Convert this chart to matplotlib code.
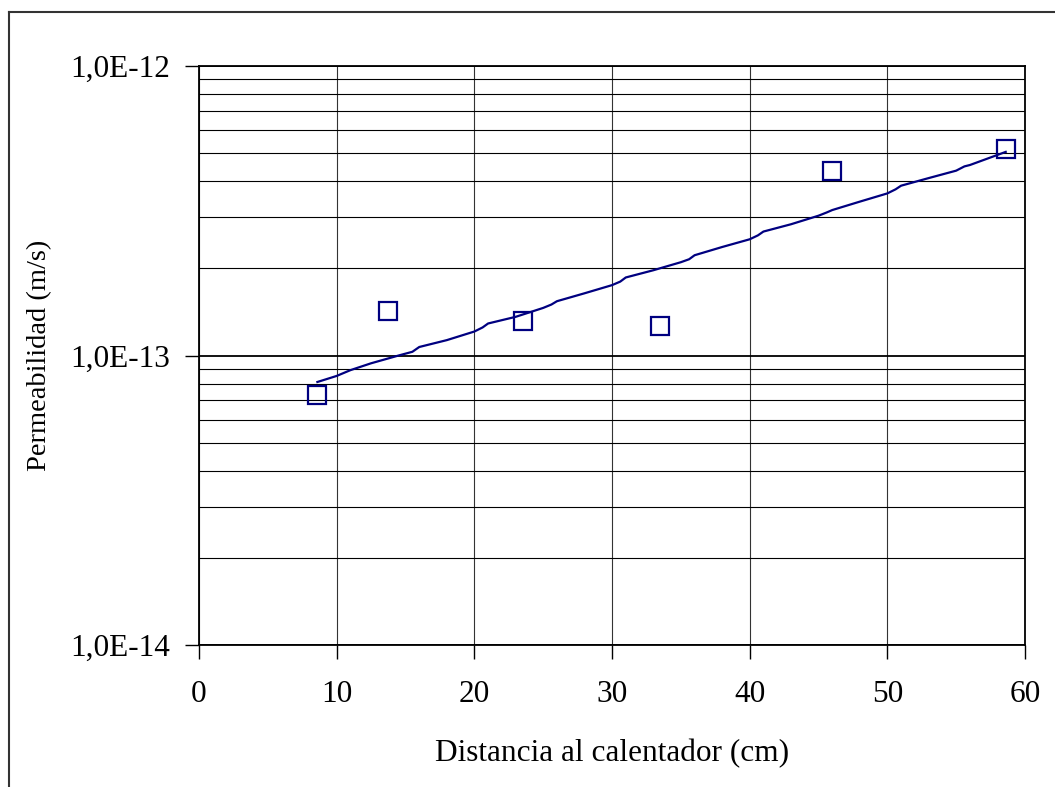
import matplotlib
matplotlib.use("Agg")
import matplotlib.pyplot as plt
from matplotlib.lines import Line2D
from matplotlib.ticker import FixedLocator, LogLocator, NullFormatter

plt.rcParams['font.family'] = ['Liberation Serif', 'DejaVu Serif']

# measured points
dist_pts = [8.6, 13.7, 23.5, 33.5, 46.0, 58.6]
perm_pts = [7.3e-14, 1.43e-13, 1.32e-13, 1.26e-13, 4.34e-13, 5.17e-13]

# model curve
dist_line = [8.6, 10, 11, 12.5, 14.5, 15.5, 16, 18, 20, 20.6, 21, 23, 25, 25.6,
             26, 28, 30, 30.6, 31, 33, 35, 35.6, 36, 38, 40, 40.6, 41, 43, 45,
             45.6, 46, 48, 50, 50.6, 51, 53, 55, 55.6, 56, 58.6]
perm_line = [8.1e-14, 8.5e-14, 8.9e-14, 9.4e-14, 1.0e-13, 1.03e-13, 1.07e-13,
             1.13e-13, 1.21e-13, 1.25e-13, 1.29e-13, 1.36e-13, 1.46e-13, 1.50e-13,
             1.54e-13, 1.64e-13, 1.75e-13, 1.80e-13, 1.86e-13, 1.97e-13, 2.10e-13,
             2.15e-13, 2.22e-13, 2.37e-13, 2.52e-13, 2.60e-13, 2.68e-13, 2.84e-13,
             3.04e-13, 3.12e-13, 3.18e-13, 3.40e-13, 3.63e-13, 3.75e-13, 3.86e-13,
             4.10e-13, 4.35e-13, 4.50e-13, 4.55e-13, 5.05e-13]

y_ticks = [1e-14, 1e-13, 1e-12]
y_labels = ["1,0E-14", "1,0E-13", "1,0E-12"]
x_ticks = [0, 10, 20, 30, 40, 50, 60]

navy = "#000080"

fig = plt.figure(figsize=(10.55, 7.87), dpi=100)
ax = fig.add_axes([199 / 1055, 1 - 645 / 787, 826 / 1055, 579 / 787])

ax.set_yscale("log")
ax.set_xlim(0, 60)
ax.set_ylim(1e-14, 1e-12)

ax.plot(dist_line, perm_line, color=navy, lw=1.6, zorder=3)
ax.plot(dist_pts, perm_pts, ls="none", marker="s", ms=13, mfc="none",
        mec=navy, mew=1.6, zorder=4)

ax.yaxis.set_major_locator(FixedLocator(y_ticks))
ax.set_yticklabels(y_labels)
ax.yaxis.set_minor_locator(LogLocator(base=10, subs=range(2, 10)))
ax.yaxis.set_minor_formatter(NullFormatter())
ax.set_xticks(x_ticks)

ax.grid(True, which="major", axis="y", color="black", lw=1.3)
ax.grid(True, which="minor", axis="y", color="black", lw=0.8)
ax.grid(True, which="major", axis="x", color="#333333", lw=0.8)

ax.tick_params(axis="both", which="major", direction="out", length=10,
               width=1, labelsize=22.5)
ax.tick_params(axis="x", which="major", pad=15)
ax.tick_params(axis="y", which="major", pad=11)
ax.tick_params(axis="y", which="minor", length=0)
for s in ax.spines.values():
    s.set_linewidth(1.3)

ax.set_xlabel("Distancia al calentador (cm)", fontsize=22.5, labelpad=22)
ax.set_ylabel("Permeabilidad (m/s)", fontsize=20.5, labelpad=13)

# outer frame (left and top edges visible)
fig.add_artist(Line2D([9 / 1055, 9 / 1055], [0, 1 - 12 / 787],
                      transform=fig.transFigure, color="#333333", lw=1.5))
fig.add_artist(Line2D([9 / 1055, 1], [1 - 12 / 787, 1 - 12 / 787],
                      transform=fig.transFigure, color="#333333", lw=1.5))

fig.savefig("out.png", dpi=100)
